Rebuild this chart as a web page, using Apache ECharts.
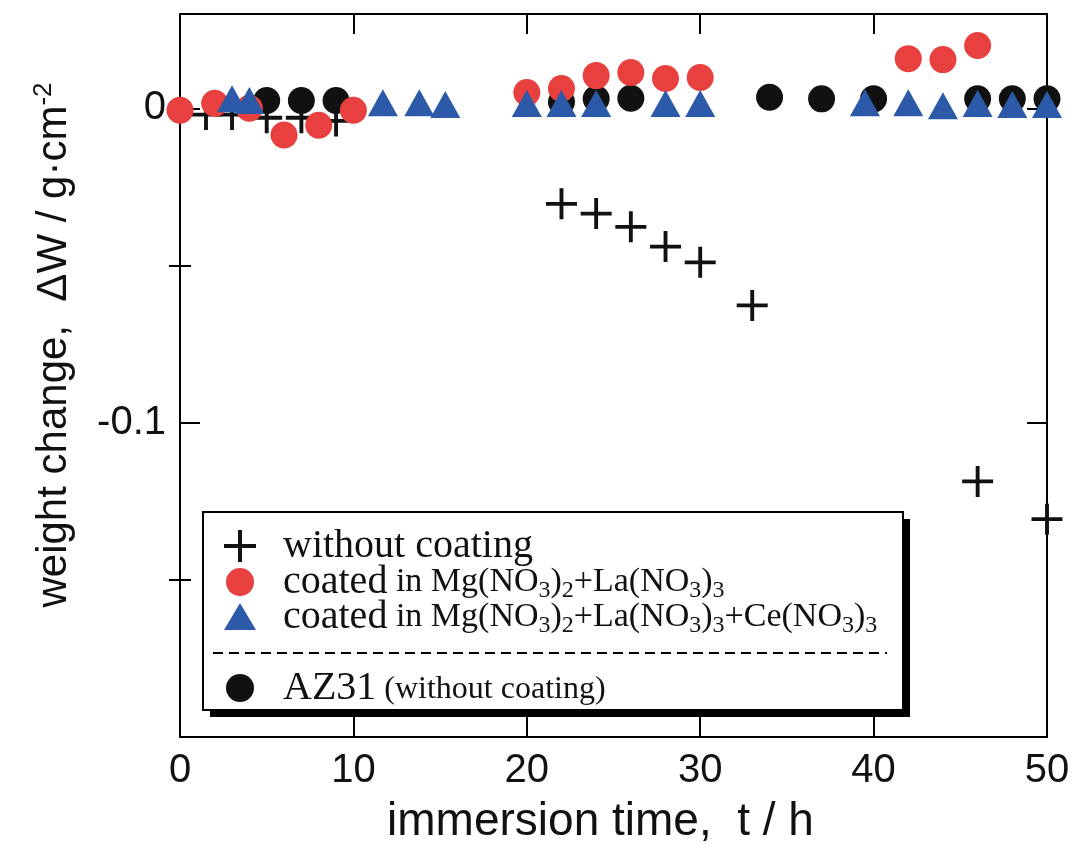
<!DOCTYPE html>
<html>
<head>
<meta charset="utf-8">
<script src="https://cdn.jsdelivr.net/npm/echarts@6/dist/echarts.min.js"></script>
<style>
html, body { margin: 0; background: #fff; }
#main { width: 1074px; height: 844px; }
</style>
</head>
<body>
<div id="main"></div>
<script>
// immersion time (h) and weight change (g/cm2)
const timeBare = [1.5, 3, 5, 7, 9, 22, 24, 26, 28, 30, 33, 46, 50];
const dwBare = [-0.002, -0.002, -0.003, -0.003, -0.004, -0.0304, -0.0335, -0.0377, -0.044, -0.049, -0.0627, -0.1187, -0.1307];

const timeLa = [0, 2, 4, 6, 8, 10, 20, 22, 24, 26, 28, 30, 42, 44, 46];
const dwLa = [-0.0006, 0.0016, 0, -0.0085, -0.0054, -0.0006, 0.005, 0.0063, 0.0104, 0.0114, 0.0095, 0.0098, 0.0158, 0.0155, 0.020];

const timeLaCe = [3, 4, 11.7, 13.8, 15.3, 20, 22, 24, 28, 30, 39.5, 42, 44, 46, 48, 50];
const dwLaCe = [0.003, 0.0025, 0.0018, 0.0018, 0.0012, 0.0015, 0.0015, 0.0015, 0.0015, 0.0015, 0.0018, 0.0018, 0.0008, 0.0015, 0.0012, 0.0012];

const timeAZ31 = [5, 7, 9, 22, 24, 26, 34, 37, 40, 46, 48, 50];
const dwAZ31 = [0.0025, 0.0025, 0.0025, 0.002, 0.003, 0.0032, 0.0035, 0.003, 0.003, 0.003, 0.003, 0.003];

const xTicks = [0, 10, 20, 30, 40, 50];
const yMajor = [0, -0.1];
const yMinor = [-0.05, -0.15];

const RED = '#e8403f';
const BLUE = '#2d5aa8';
const BLACK = '#111';
const SANS = 'Liberation Sans, Arial, sans-serif';
const SERIF = 'Liberation Serif, Times New Roman, serif';

const pair = (xs, ys) => xs.map((x, i) => [x, ys[i]]);

const chart = echarts.init(document.getElementById('main'));

const axisLine = { show: true, onZero: false, lineStyle: { color: '#000', width: 2 } };

function yAxis(pos, ticks, len, withLabel, withLine) {
    return {
        type: 'value',
        position: pos,
        min: -0.2,
        max: 0.03,
        axisLine: withLine ? axisLine : { show: false },
        axisTick: { show: true, inside: true, length: len, customValues: ticks, lineStyle: { color: '#000', width: 2 } },
        axisLabel: withLabel
            ? { show: true, customValues: ticks, fontSize: 40, color: '#111', fontFamily: SANS, margin: 14 }
            : { show: false },
        splitLine: { show: false }
    };
}

const subs = { fontFamily: SERIF, fontSize: 24, color: '#111', padding: [18, 0, 0, 0] };
const small = { fontFamily: SERIF, fontSize: 34, color: '#111' };

let option = {
    animation: false,
    backgroundColor: '#fff',
    grid: { left: 180, right: 27, top: 14, bottom: 107, outerBoundsMode: 'none', containLabel: false },
    xAxis: [
        {
            type: 'value',
            position: 'bottom',
            min: 0,
            max: 50,
            interval: 10,
            axisLine: axisLine,
            axisTick: { show: true, inside: true, length: 20, customValues: xTicks, lineStyle: { color: '#000', width: 2 } },
            axisLabel: { customValues: xTicks, fontSize: 40, color: '#111', fontFamily: SANS, margin: 14 },
            splitLine: { show: false },
            name: 'immersion time,  t / h',
            nameLocation: 'middle',
            nameGap: 62,
            nameTextStyle: { fontSize: 46, color: '#111', fontFamily: SANS, padding: [0, 26, 0, 0] }
        },
        {
            type: 'value',
            position: 'top',
            min: 0,
            max: 50,
            interval: 10,
            axisLine: axisLine,
            axisTick: { show: true, inside: true, length: 20, customValues: xTicks, lineStyle: { color: '#000', width: 2 } },
            axisLabel: { show: false },
            splitLine: { show: false }
        }
    ],
    yAxis: [
        yAxis('left', yMajor, 20, true, true),
        yAxis('left', yMinor, 11, false, false),
        yAxis('right', yMajor, 20, false, true),
        yAxis('right', yMinor, 11, false, false)
    ],
    series: [
        {
            name: 'without coating',
            type: 'scatter',
            data: pair(timeBare, dwBare),
            symbol: 'path://M14,0 H18 V14 H32 V18 H18 V32 H14 V18 H0 V14 H14 Z',
            symbolSize: 31,
            itemStyle: { color: BLACK, opacity: 1 },
            z: 2
        },
        {
            name: 'AZ31 (without coating)',
            type: 'scatter',
            data: pair(timeAZ31, dwAZ31),
            symbol: 'circle',
            symbolSize: 27,
            itemStyle: { color: BLACK, opacity: 1 },
            z: 3
        },
        {
            name: 'coated in Mg(NO3)2+La(NO3)3',
            type: 'scatter',
            data: pair(timeLa, dwLa),
            symbol: 'circle',
            symbolSize: 27,
            itemStyle: { color: RED, opacity: 1 },
            z: 4
        },
        {
            name: 'coated in Mg(NO3)2+La(NO3)3+Ce(NO3)3',
            type: 'scatter',
            data: pair(timeLaCe, dwLaCe),
            symbol: 'triangle',
            symbolSize: [30, 27],
            itemStyle: { color: BLUE, opacity: 1 },
            z: 5
        }
    ],
    graphic: [
        // y axis title
        {
            type: 'text',
            x: 54,
            y: 345,
            rotation: Math.PI / 2,
            style: {
                text: 'weight change,  ΔW / g·cm{sup|-2}',
                font: '42px ' + SANS,
                fill: '#111',
                align: 'center',
                verticalAlign: 'middle',
                rich: { sup: { fontFamily: SANS, fontSize: 26, color: '#111', padding: [0, 0, 20, 0] } }
            }
        },
        // legend box with shadow
        { type: 'rect', z: 10, shape: { x: 210, y: 519, width: 700, height: 198 }, style: { fill: '#000' } },
        { type: 'rect', z: 11, shape: { x: 203, y: 512, width: 700, height: 198 }, style: { fill: '#fff', stroke: '#000', lineWidth: 2 } },
        { type: 'line', z: 12, shape: { x1: 213, y1: 653, x2: 887, y2: 653 }, style: { stroke: '#000', lineWidth: 2, lineDash: [10, 6] } },
        { type: 'line', z: 12, shape: { x1: 224, y1: 546, x2: 256, y2: 546 }, style: { stroke: BLACK, lineWidth: 4 } },
        { type: 'line', z: 12, shape: { x1: 240, y1: 530, x2: 240, y2: 562 }, style: { stroke: BLACK, lineWidth: 4 } },
        { type: 'circle', z: 12, shape: { cx: 240, cy: 582, r: 14 }, style: { fill: RED } },
        { type: 'polygon', z: 12, shape: { points: [[224, 630], [256, 630], [240, 603]] }, style: { fill: BLUE } },
        { type: 'circle', z: 12, shape: { cx: 240, cy: 688, r: 14 }, style: { fill: BLACK } },
        {
            type: 'text', z: 12, x: 283, y: 546,
            style: { text: 'without coating', font: '40px ' + SERIF, fill: '#111', verticalAlign: 'middle' }
        },
        {
            type: 'text', z: 12, x: 283, y: 582,
            style: {
                text: 'coated{s| in Mg(NO}{b|3}{s|)}{b|2}{s|+La(NO}{b|3}{s|)}{b|3}',
                font: '40px ' + SERIF, fill: '#111', verticalAlign: 'middle',
                rich: { s: small, b: subs }
            }
        },
        {
            type: 'text', z: 12, x: 283, y: 617,
            style: {
                text: 'coated{s| in Mg(NO}{b|3}{s|)}{b|2}{s|+La(NO}{b|3}{s|)}{b|3}{s|+Ce(NO}{b|3}{s|)}{b|3}',
                font: '40px ' + SERIF, fill: '#111', verticalAlign: 'middle',
                rich: { s: small, b: subs }
            }
        },
        {
            type: 'text', z: 12, x: 283, y: 688,
            style: {
                text: 'AZ31{s| (without coating)}',
                font: '40px ' + SERIF, fill: '#111', verticalAlign: 'middle',
                rich: { s: { fontFamily: SERIF, fontSize: 32, color: '#111', padding: [4, 0, 0, 0] } }
            }
        }
    ]
};

chart.setOption(option);
</script>
</body>
</html>
